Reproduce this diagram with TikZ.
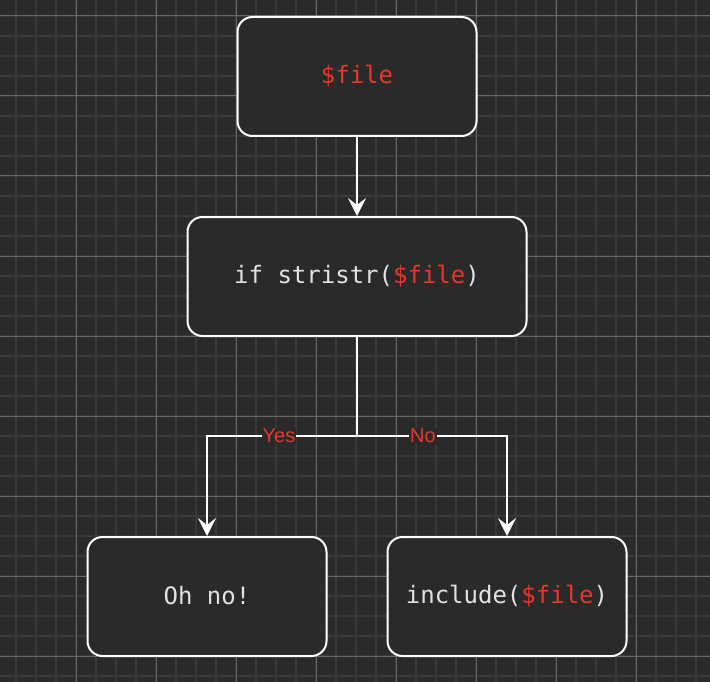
\documentclass[tikz,border=0pt]{standalone}
\usepackage{fontspec}
\setmainfont{Liberation Sans}
\newfontfamily\monof{DejaVu Sans Mono}
\usetikzlibrary{arrows.meta}
\definecolor{bgc}{HTML}{2A2A2A}
\definecolor{minorc}{HTML}{393939}
\definecolor{majorc}{HTML}{666666}
\definecolor{txtc}{HTML}{E2E2E2}
\definecolor{redc}{HTML}{E8372A}
\tikzset{
  stepbox/.style={draw=white, line width=2pt, fill=bgc, rounded corners=15pt,
    minimum height=119pt, inner sep=0pt, text=txtc,
    font=\monof\fontsize{24pt}{28pt}\selectfont},
  arr/.style={draw=white, line width=2pt, -{Stealth[length=18pt,width=18pt,inset=7pt]}},
  lbl/.style={fill=bgc, text=redc, inner sep=1pt, font=\fontsize{20pt}{24pt}\selectfont},
}
\newcommand{\rv}[1]{\textcolor{redc}{#1}}
\begin{document}
\begin{tikzpicture}[x=1pt,y=-1pt]
\useasboundingbox (0,0) rectangle (710,682);
\fill[bgc] (0,0) rectangle (710,682);
% minor grid
\foreach \i in {0,...,35} {
  \draw[minorc, line width=1.6pt] ({16+20*\i},0) -- ({16+20*\i},682);
}
\foreach \j in {0,...,34} {
  \draw[minorc, line width=1.6pt] (0,{16+20*\j}) -- (710,{16+20*\j});
}
% major grid
\foreach \i in {-1,...,8} {
  \draw[majorc, line width=1pt] ({76+80*\i},0) -- ({76+80*\i},682);
}
\foreach \j in {0,...,8} {
  \draw[majorc, line width=1pt] (0,{16+80*\j}) -- (710,{16+80*\j});
}
% nodes
\node[stepbox, minimum width=239pt] (top) at (357,76.5) {\rv{\$file}\vphantom{(}};
\node[stepbox, minimum width=339pt] (mid) at (357,276.5) {if stristr(\rv{\$file})};
\node[stepbox, minimum width=239pt] (left) at (207,596.5) {Oh no!\vphantom{(}};
\node[stepbox, minimum width=239pt] (right) at (507,596.5) {include(\rv{\$file})};
\coordinate (j) at (357,436);
% edges
\draw[arr] (top) -- (mid);
\draw[arr] (mid.south) -- (j) -| node[lbl, pos=0.26]{Yes} (left.north);
\draw[arr] (j) -| node[lbl, pos=0.22]{No} (right.north);
\end{tikzpicture}
\end{document}
